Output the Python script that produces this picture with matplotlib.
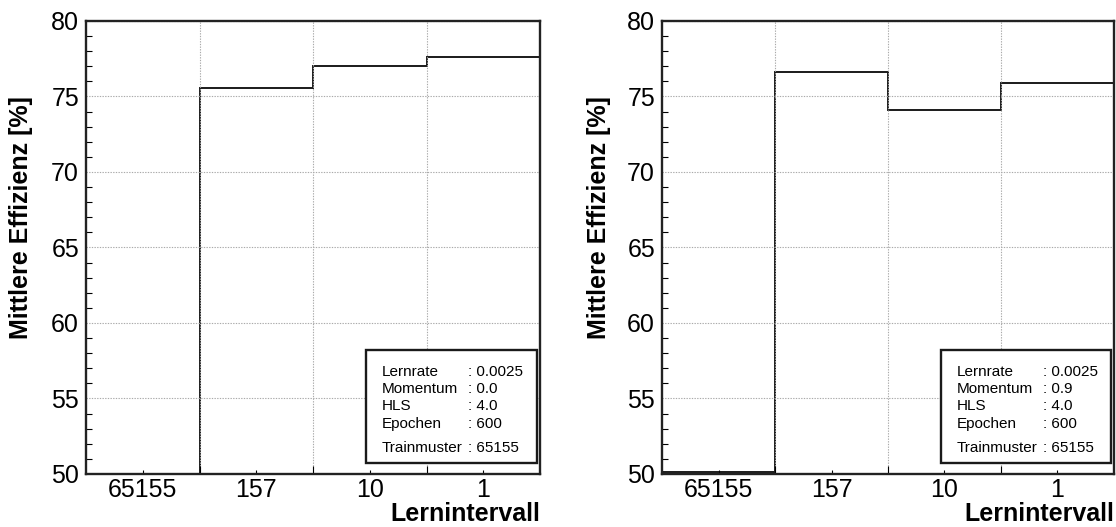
import numpy as np
import matplotlib.pyplot as plt
from matplotlib.patches import Rectangle
from matplotlib.ticker import MultipleLocator, FixedLocator

plt.rcParams.update({
    "font.family": "Liberation Sans",
    "font.size": 18,
})

intervals = ["65155", "157", "10", "1"]
eff_mom00 = [50.0, 75.55, 77.0, 77.6]
eff_mom09 = [50.1, 76.65, 74.1, 75.87]

par_names = ["Lernrate", "Momentum", "HLS", "Epochen", "Trainmuster"]
par_mom00 = ["0.0025", "0.0", "4.0", "600", "65155"]
par_mom09 = ["0.0025", "0.9", "4.0", "600", "65155"]


def panel(ax, eff, pars, ylab_x):
    edges = np.arange(len(eff) + 1)
    ax.stairs(eff, edges, baseline=None, color='#1a1a1a', linewidth=1.4)
    ax.set_xlim(0, len(eff))
    ax.set_ylim(50, 80)

    # labels sit in the middle of each bin, grid at the bin edges
    ax.xaxis.set_major_locator(FixedLocator(edges[1:-1]))
    ax.set_xticklabels([], minor=False)
    ax.set_xticks(edges[:-1] + 0.5, intervals, minor=True)
    ax.yaxis.set_major_locator(MultipleLocator(5))
    ax.yaxis.set_minor_locator(MultipleLocator(1))
    ax.tick_params(which='both', direction='in', top=False, right=False)
    ax.tick_params(axis='x', which='major', length=6, width=0.8)
    ax.tick_params(axis='x', which='minor', length=3, width=0.8, pad=3, labelsize=18)
    ax.tick_params(axis='y', which='major', length=0, pad=5, labelsize=18)
    ax.tick_params(axis='y', which='minor', length=4, width=0.8)
    ax.grid(True, which='major', color='#aaaaaa', linestyle=(0, (1.2, 1.2)), linewidth=0.8)

    for s in ax.spines.values():
        s.set_linewidth(1.7)
        s.set_color('#222222')

    ax.set_ylabel("Mittlere Effizienz [%]", fontweight='bold', fontsize=18)
    ax.yaxis.set_label_coords(ylab_x, 0.565)
    ax.set_xlabel("Lernintervall", fontweight='bold', fontsize=18, loc='right')
    ax.xaxis.labelpad = 0

    # parameter box in the lower right corner
    ax.add_patch(Rectangle((0.617, 0.024), 0.376, 0.25, transform=ax.transAxes,
                           facecolor='white', edgecolor='#1a1a1a', linewidth=1.7, zorder=5))
    ys = [0.226, 0.187, 0.150, 0.110, 0.057]
    for name, val, y in zip(par_names, pars, ys):
        ax.text(0.652, y, name, transform=ax.transAxes, fontsize=11, va='center', zorder=6)
        ax.text(0.842, y, ": " + val, transform=ax.transAxes, fontsize=11, va='center', zorder=6)


fig = plt.figure(figsize=(11.16, 5.27), dpi=100)
ax1 = fig.add_axes([0.0771, 0.1006, 0.4068, 0.8596])
ax2 = fig.add_axes([0.5932, 0.1006, 0.4050, 0.8596])

panel(ax1, eff_mom00, par_mom00, -0.117)
panel(ax2, eff_mom09, par_mom09, -0.113)

fig.savefig('out.png', dpi=100)
